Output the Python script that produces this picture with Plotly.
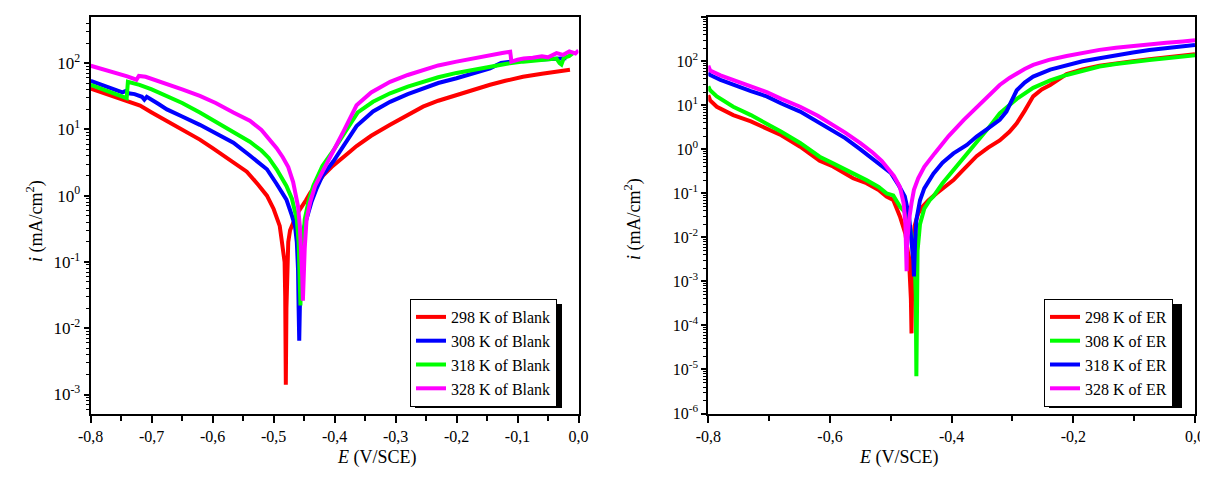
import plotly.graph_objects as go

# ---------------- data: Blank (left panel) ----------------
E_b298 = [-0.800,-0.780,-0.760,-0.740,-0.719,-0.700,-0.680,-0.660,-0.640,-0.621,-0.600,-0.580,-0.560,-0.544,-0.525,-0.511,-0.500,-0.495,-0.490,-0.487,-0.484,-0.482,-0.481,-0.480,-0.479,-0.478,-0.476,-0.473,-0.470,-0.465,-0.460,-0.454,-0.447,-0.440,-0.430,-0.419,-0.405,-0.390,-0.375,-0.364,-0.340,-0.309,-0.280,-0.255,-0.230,-0.200,-0.170,-0.145,-0.120,-0.091,-0.060,-0.035,-0.014]
I_b298 = [41,35.5,30,26,22.8,18,14.3,11.2,8.8,7.0,5.2,3.9,2.9,2.3,1.45,1.0,0.63,0.49,0.35,0.22,0.14,0.1,0.03,0.0014,0.02,0.08,0.2,0.3,0.36,0.45,0.56,0.70,0.85,1.1,1.45,2.0,2.7,3.6,4.6,5.6,8.0,11.7,16.5,22,27,33,40,47,54,62,69,74,79]

E_b308 = [-0.800,-0.780,-0.760,-0.748,-0.742,-0.738,-0.728,-0.716,-0.712,-0.708,-0.690,-0.675,-0.650,-0.621,-0.595,-0.566,-0.540,-0.520,-0.511,-0.495,-0.479,-0.470,-0.465,-0.462,-0.460,-0.459,-0.458,-0.457,-0.456,-0.454,-0.451,-0.445,-0.438,-0.430,-0.420,-0.402,-0.380,-0.364,-0.337,-0.309,-0.280,-0.255,-0.230,-0.200,-0.170,-0.145,-0.127,-0.100,-0.070,-0.045,-0.020]
I_b308 = [54,45.6,39,36,38,35,34,31,28,31,24.5,20,15.6,11.7,8.7,6.3,4.1,2.9,2.5,1.5,0.87,0.5,0.35,0.2,0.078,0.02,0.0065,0.02,0.08,0.18,0.31,0.5,0.8,1.25,2.0,3.3,6.5,11.2,18.6,26,34,42,50,59,70,83,100,108,112,115,118]

E_b318 = [-0.800,-0.780,-0.760,-0.747,-0.741,-0.739,-0.730,-0.720,-0.700,-0.675,-0.650,-0.621,-0.595,-0.566,-0.539,-0.520,-0.508,-0.495,-0.479,-0.470,-0.462,-0.459,-0.457,-0.456,-0.455,-0.453,-0.449,-0.443,-0.435,-0.420,-0.402,-0.380,-0.362,-0.337,-0.309,-0.280,-0.255,-0.230,-0.200,-0.170,-0.145,-0.120,-0.091,-0.060,-0.036,-0.031,-0.028,-0.024,-0.015,-0.009]
I_b318 = [47,40,34,30,29.5,52,50,47,40,32,25,18,13,8.9,6.5,4.8,3.7,2.5,1.4,0.9,0.44,0.2,0.07,0.022,0.07,0.15,0.44,0.8,1.4,2.8,4.8,10,18,26,35,44,52,61,71,80,89,97,105,111,117,100,95,120,128,141]

E_b328 = [-0.800,-0.780,-0.760,-0.740,-0.725,-0.721,-0.710,-0.690,-0.675,-0.650,-0.621,-0.595,-0.566,-0.539,-0.520,-0.508,-0.495,-0.485,-0.476,-0.468,-0.460,-0.457,-0.455,-0.453,-0.452,-0.451,-0.449,-0.446,-0.440,-0.432,-0.415,-0.397,-0.385,-0.375,-0.364,-0.340,-0.309,-0.280,-0.255,-0.230,-0.200,-0.170,-0.145,-0.125,-0.112,-0.110,-0.100,-0.090,-0.075,-0.060,-0.050,-0.036,-0.025,-0.015,-0.005,0.000]
I_b328 = [91,81,72,63,56,64,62,54,47,40,32,25,18,13.5,9.8,7.4,5.2,3.8,2.7,1.6,0.69,0.35,0.16,0.06,0.026,0.06,0.16,0.44,0.8,1.4,2.9,5.8,9.5,15,23,36,52,66,79,92,105,120,132,142,148,105,112,117,120,126,122,141,133,150,140,155]

# ---------------- data: ER (right panel) ----------------
E_e298 = [-0.800,-0.797,-0.786,-0.772,-0.759,-0.730,-0.704,-0.680,-0.649,-0.617,-0.595,-0.562,-0.540,-0.520,-0.507,-0.496,-0.485,-0.476,-0.470,-0.467,-0.466,-0.4655,-0.464,-0.461,-0.455,-0.448,-0.438,-0.425,-0.410,-0.397,-0.385,-0.375,-0.359,-0.340,-0.321,-0.305,-0.293,-0.280,-0.266,-0.252,-0.238,-0.211,-0.185,-0.157,-0.130,-0.102,-0.075,-0.047,-0.020,0.000]
I_e298 = [17,13,9.3,7.5,6.0,4.3,3.0,2.1,1.15,0.55,0.41,0.22,0.17,0.12,0.085,0.071,0.03,0.012,0.003,0.0004,0.000066,0.0005,0.005,0.018,0.035,0.05,0.07,0.1,0.15,0.2,0.3,0.41,0.7,1.1,1.6,2.5,3.9,7.5,16,23,29,51,65,79,90,101,111,121,132,145]

E_e308 = [-0.800,-0.797,-0.786,-0.772,-0.759,-0.730,-0.704,-0.680,-0.649,-0.617,-0.595,-0.562,-0.540,-0.520,-0.507,-0.496,-0.485,-0.475,-0.466,-0.461,-0.459,-0.458,-0.4575,-0.456,-0.452,-0.445,-0.436,-0.430,-0.415,-0.397,-0.375,-0.359,-0.340,-0.321,-0.293,-0.266,-0.238,-0.211,-0.185,-0.157,-0.130,-0.102,-0.075,-0.047,-0.020,0.000]
I_e308 = [27,22,16,12,9.3,6.0,3.9,2.5,1.4,0.68,0.48,0.29,0.2,0.14,0.1,0.09,0.05,0.035,0.012,0.004,0.0005,0.000007,0.0005,0.005,0.02,0.045,0.07,0.085,0.17,0.34,0.81,1.4,3.0,6.6,14,25,37,49,62,76,87,98,107,117,127,138]

E_e318 = [-0.800,-0.797,-0.780,-0.759,-0.730,-0.704,-0.680,-0.649,-0.620,-0.600,-0.575,-0.550,-0.530,-0.515,-0.500,-0.488,-0.477,-0.470,-0.466,-0.463,-0.462,-0.4615,-0.460,-0.458,-0.452,-0.445,-0.436,-0.430,-0.415,-0.397,-0.375,-0.359,-0.340,-0.321,-0.310,-0.302,-0.293,-0.280,-0.266,-0.238,-0.211,-0.185,-0.157,-0.130,-0.102,-0.075,-0.047,-0.020,0.000]
I_e318 = [56,49,38,29,21,16,11,7.2,4.2,3.0,1.8,1.0,0.6,0.4,0.29,0.16,0.085,0.03,0.01,0.003,0.0013,0.003,0.008,0.025,0.07,0.13,0.2,0.28,0.5,0.81,1.26,1.95,3.0,4.7,7.2,12,22,33,45,65,83,100,117,138,158,180,200,218,234]

E_e328 = [-0.800,-0.797,-0.780,-0.759,-0.730,-0.704,-0.680,-0.649,-0.620,-0.600,-0.575,-0.550,-0.530,-0.515,-0.507,-0.495,-0.485,-0.479,-0.476,-0.4745,-0.474,-0.4735,-0.472,-0.470,-0.466,-0.462,-0.455,-0.445,-0.428,-0.405,-0.380,-0.350,-0.321,-0.305,-0.293,-0.280,-0.266,-0.240,-0.211,-0.185,-0.157,-0.130,-0.102,-0.075,-0.047,-0.020,0.000]
I_e328 = [80,62,48,38,27,20,14,9.3,5.8,4.0,2.4,1.38,0.85,0.55,0.41,0.25,0.14,0.06,0.02,0.006,0.0017,0.006,0.015,0.025,0.06,0.12,0.22,0.4,0.81,2.0,4.7,12,29,42,54,67,83,108,132,158,182,203,224,243,263,283,302]

blank_names = ["298 K of Blank", "308 K of Blank", "318 K of Blank", "328 K of Blank"]
er_names = ["298 K of ER", "308 K of ER", "318 K of ER", "328 K of ER"]
blank_colors = ["#FF0000", "#0000FF", "#00FF00", "#FF00FF"]
er_colors = ["#FF0000", "#00FF00", "#0000FF", "#FF00FF"]

x_ticks_left = [-0.8, -0.7, -0.6, -0.5, -0.4, -0.3, -0.2, -0.1, 0.0]
x_ticks_right = [-0.8, -0.6, -0.4, -0.2, 0.0]
y_exp_left = [-3, -2, -1, 0, 1, 2]
y_exp_right = [-6, -5, -4, -3, -2, -1, 0, 1, 2, 3]

# ---------------- figure ----------------
# the page body adds an 8 px margin, so the figure is drawn 8 px smaller
OFF = 8
W, H = 1208 - OFF, 484 - OFF
FONT = "Liberation Serif, Times New Roman, serif"

def px_x(p):
    return (p - OFF) / W

def px_y(p):
    return 1 - (p - OFF) / H

fig = go.Figure()

blank_E = [E_b298, E_b308, E_b318, E_b328]
blank_I = [I_b298, I_b308, I_b318, I_b328]
for e, i, n, c in zip(blank_E, blank_I, blank_names, blank_colors):
    fig.add_trace(go.Scatter(x=e, y=i, mode="lines", name=n,
                             line=dict(color=c, width=4),
                             xaxis="x", yaxis="y", legend="legend"))

er_E = [E_e298, E_e308, E_e318, E_e328]
er_I = [I_e298, I_e308, I_e318, I_e328]
for e, i, n, c in zip(er_E, er_I, er_names, er_colors):
    fig.add_trace(go.Scatter(x=e, y=i, mode="lines", name=n,
                             line=dict(color=c, width=4),
                             xaxis="x2", yaxis="y2", legend="legend2"))

def fmt_x(v):
    return ("%.1f" % v).replace(".", ",")

def minor_log(e0, e1):
    vals = []
    for k in range(e0, e1 + 1):
        for m in range(2, 10):
            vals.append(m * 10.0 ** k)
    return vals

def minor_lin(ticks):
    return [round((a + b) / 2, 3) for a, b in zip(ticks[:-1], ticks[1:])]

common_axis = dict(showline=True, linecolor="black", linewidth=2, mirror=True,
                   showgrid=False, zeroline=False, ticks="outside", automargin=False,
                   tickcolor="black", tickwidth=1.5)

dom_left = [px_x(90.7), px_x(578.5)]
dom_right = [px_x(708.3), px_x(1195)]
dom_y = [px_y(413.5), px_y(17.3)]

tick_font = dict(family=FONT, size=16, color="black")
legend_font = dict(family=FONT, size=16, color="black")

fig.update_layout(
    template="none",
    width=W, height=H,
    margin=dict(l=0, r=0, t=0, b=0, autoexpand=False),
    paper_bgcolor="white", plot_bgcolor="white",
    font=dict(family=FONT, color="black"),
    xaxis=dict(domain=dom_left, range=[-0.8, 0.0], anchor="y",
               tickmode="array", tickvals=x_ticks_left,
               ticktext=[fmt_x(v) for v in x_ticks_left], ticklen=7, tickfont=tick_font,
               minor=dict(tickmode="array", tickvals=minor_lin(x_ticks_left),
                          ticks="outside", ticklen=5, tickcolor="black", tickwidth=1.5),
               **common_axis),
    yaxis=dict(domain=dom_y, type="log", range=[-3.286, 2.69], anchor="x",
               tickmode="array", tickvals=[10.0 ** k for k in y_exp_left],
               ticktext=["10<sup>%d</sup>" % k for k in y_exp_left], ticklen=5,
               tickfont=dict(family=FONT, size=17, color="black"),
               minor=dict(tickmode="array", tickvals=minor_log(-4, 2),
                          ticks="outside", ticklen=3, tickcolor="black", tickwidth=1),
               **common_axis),
    xaxis2=dict(domain=dom_right, range=[-0.8, 0.0], anchor="y2",
                tickmode="array", tickvals=x_ticks_right,
                ticktext=[fmt_x(v) for v in x_ticks_right], ticklen=7, tickfont=tick_font,
                minor=dict(tickmode="array", tickvals=minor_lin(x_ticks_right),
                           ticks="outside", ticklen=5, tickcolor="black", tickwidth=1.5),
                **common_axis),
    yaxis2=dict(domain=dom_y, type="log", range=[-6, 3], anchor="x2",
                tickmode="array", tickvals=[10.0 ** k for k in y_exp_right],
                ticktext=["10<sup>%d</sup>" % k for k in y_exp_right], ticklen=5,
                tickfont=tick_font,
                minor=dict(tickmode="array", tickvals=minor_log(-6, 2),
                           ticks="outside", ticklen=3, tickcolor="black", tickwidth=1),
                **common_axis),
    legend=dict(x=px_x(410), y=px_y(299), xanchor="left", yanchor="top",
                bgcolor="white", bordercolor="black", borderwidth=1,
                font=legend_font, tracegroupgap=0, itemwidth=30),
    legend2=dict(x=px_x(1044), y=px_y(299), xanchor="left", yanchor="top",
                 bgcolor="white", bordercolor="black", borderwidth=1,
                 font=legend_font, tracegroupgap=0, itemwidth=30),
    showlegend=True,
)

# legend drop shadows (offset 5 px right / down)
fig.add_shape(type="rect", xref="paper", yref="paper",
              x0=px_x(415), x1=px_x(562), y0=px_y(408), y1=px_y(304),
              fillcolor="black", line=dict(width=0), layer="above")
fig.add_shape(type="rect", xref="paper", yref="paper",
              x0=px_x(1049), x1=px_x(1182), y0=px_y(408), y1=px_y(304),
              fillcolor="black", line=dict(width=0), layer="above")

# axis titles
title_font = dict(family=FONT, size=18, color="black")
fig.add_annotation(text="<i>E</i> (V/SCE)", xref="paper", yref="paper",
                   x=px_x(335), y=px_y(470), showarrow=False, font=title_font)
fig.add_annotation(text="<i>E</i> (V/SCE)", xref="paper", yref="paper",
                   x=px_x(941), y=px_y(470), showarrow=False, font=title_font)
fig.add_annotation(text="<i>i</i> (mA/cm<sup>2</sup>)", xref="paper", yref="paper",
                   x=px_x(21), y=px_y(221), showarrow=False, textangle=-90, font=title_font)
fig.add_annotation(text="<i>i</i> (mA/cm<sup>2</sup>)", xref="paper", yref="paper",
                   x=px_x(633), y=px_y(219), showarrow=False, textangle=-90, font=title_font)

fig.write_html("out.html")
